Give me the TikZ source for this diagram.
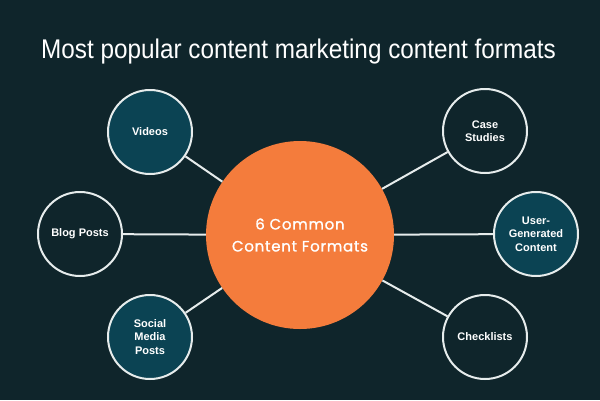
\documentclass[tikz,border=0pt]{standalone}
\usepackage{graphicx}
\usepackage{fontspec}
\setmainfont{Liberation Sans}
\newfontfamily\hubfont{Poppins}[LetterSpace=5,FakeBold=1.3]
\definecolor{bgdark}{HTML}{0F252B}
\definecolor{tealfill}{HTML}{0B4353}
\definecolor{hubcolor}{HTML}{F47C3C}
\definecolor{spokecolor}{HTML}{E6ECEC}
\tikzset{topic/.style={circle,draw=spokecolor,line width=2pt,minimum size=84pt,inner sep=0pt,
    fill=bgdark,text=white,align=center,font=\bfseries\fontsize{11}{13.5}\selectfont},
  filled/.style={topic,fill=tealfill},
  hub/.style={circle,fill=hubcolor,minimum size=188pt,inner sep=0pt,text=white,align=center,
    font=\hubfont\fontsize{15}{22}\selectfont},
  spoke/.style={draw=spokecolor,line width=2pt}}

\begin{document}
\begin{tikzpicture}[x=1pt,y=-1pt]
      \fill[bgdark] (0,0) rectangle (600,400);
      \node[text=white,anchor=base,inner sep=0pt,font=\fontsize{27}{32}\selectfont] (title) at (298.5,58)
        {\scalebox{0.9}[1]{Most popular content marketing content formats}};

      \node[hub] (H) at (300,235) {6 Common\\Content Formats};
      \node[filled] (V) at (150,132) {Videos};
      \node[topic] (B) at (80,234) {Blog Posts};
      \node[filled] (S) at (150,337) {Social\\Media\\Posts};
      \node[topic] (C) at (485,131) {Case\\Studies};
      \node[filled] (U) at (536,234) {User-\\Generated\\Content};
      \node[topic] (K) at (485,337) {Checklists};

      \draw[spoke] (H) -- (V);
      \draw[spoke] (H) -- (B);
      \draw[spoke] (H) -- (S);
      \draw[spoke] (H) -- (C);
      \draw[spoke] (H) -- (U);
      \draw[spoke] (H) -- (K);
    \end{tikzpicture}
\end{document}
